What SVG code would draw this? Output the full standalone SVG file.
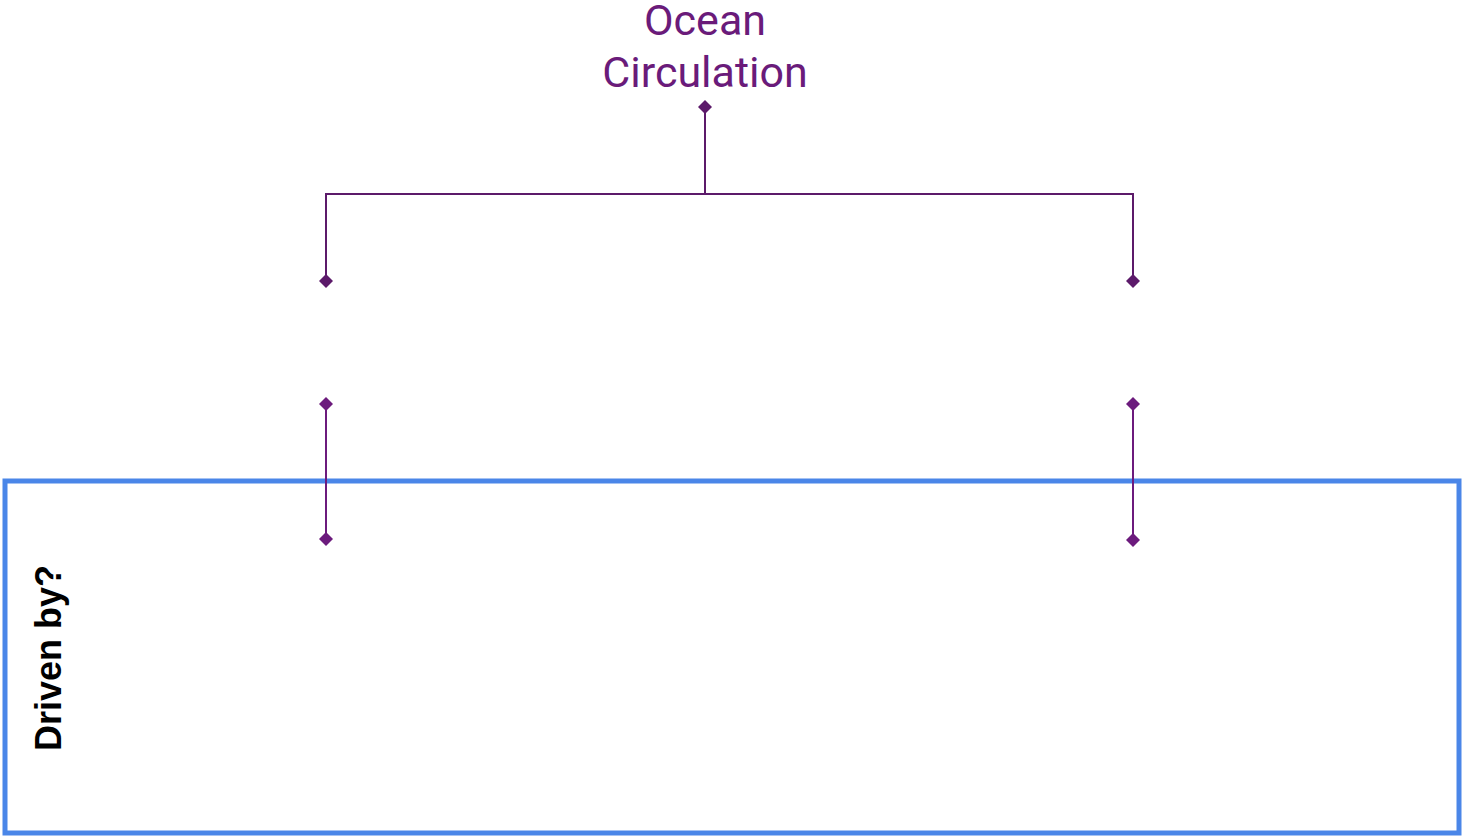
<svg xmlns="http://www.w3.org/2000/svg" width="1462" height="836" viewBox="0 0 1462 836">
<style>
.title{font-family:Roboto,"Liberation Sans",sans-serif;font-size:43px;fill:#6a1b7a;text-anchor:middle}
.lbl{font-family:"Liberation Sans",Arial,sans-serif;font-size:36px;font-weight:bold;fill:#000;text-anchor:middle}
.c1{stroke:#5c1a6a;stroke-width:2;fill:none}
.c2{stroke:#6c1b7d;stroke-width:2;fill:none}
.d1{fill:#5c1a6a}
.d2{fill:#6c1b7d}
</style>
<defs>
<path id="dm" d="M0,-7 L7,0 L0,7 L-7,0 Z"/>
</defs>
<rect width="1462" height="836" fill="#fff"/>
<g id="frame">
<rect x="5" y="481" width="1454" height="352" fill="none" stroke="#4a86e8" stroke-width="5"/>
</g>
<g id="node-ocean">
<text class="title" x="705" y="35">Ocean</text>
<text class="title" x="705" y="87">Circulation</text>
</g>
<g id="node-driven">
<text class="lbl" transform="translate(61,658) rotate(-90)" x="0" y="0">Driven by?</text>
</g>
<g id="connectors">
<polyline class="c1" points="705,107 705,194 326,194 326,281"/>
<polyline class="c1" points="705,194 1133,194 1133,281"/>
<use href="#dm" class="d1" x="705" y="107"/>
<use href="#dm" class="d1" x="326" y="281"/>
<use href="#dm" class="d1" x="1133" y="281"/>
<line class="c2" x1="326" y1="404" x2="326" y2="539"/>
<line class="c2" x1="1133" y1="404" x2="1133" y2="540"/>
<use href="#dm" class="d2" x="326" y="404"/>
<use href="#dm" class="d2" x="326" y="539"/>
<use href="#dm" class="d2" x="1133" y="404"/>
<use href="#dm" class="d2" x="1133" y="540"/>
</g>
</svg>
